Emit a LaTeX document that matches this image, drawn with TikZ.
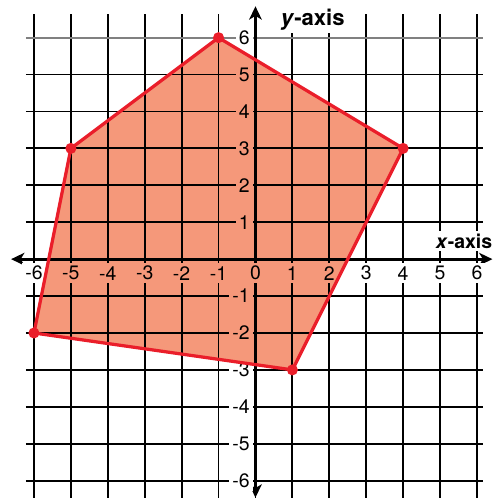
\documentclass[tikz,border=0pt]{standalone}
\usepackage{fontspec}
\setmainfont{TeX Gyre Heros}
\usetikzlibrary{arrows.meta}
\definecolor{polyfill}{RGB}{245,152,122}
\definecolor{polyred}{RGB}{234,30,42}
\definecolor{topgray}{RGB}{128,128,128}
\newcommand{\TickLabels}[1]{%
    \foreach \k in {-6,-5,-4,-3,-2,-1,0,1,2,3,4,5,6} {%
        \node[ticklbl, fill=#1] (xl\k) at (\k,-0.38) {\k};
    }%
    \foreach \k in {-6,-5,-4,-3,-2,-1,1,2,3,4,5,6} {%
        \node[ticklbl, fill=#1, anchor=east] (yl\k) at (-0.06,\k) {\k};
    }%
}
\begin{document}
\begin{tikzpicture}[
    gridline/.style={line width=1.4pt, black},
    axisline/.style={line width=2.3pt, black, {Stealth[length=3.6mm,width=3.4mm,inset=1mm]}-{Stealth[length=3.6mm,width=3.4mm,inset=1mm]}},
    ticklbl/.style={font=\fontsize{15}{17}\selectfont, inner sep=2.5pt, text=black},
    axislbl/.style={font=\bfseries\fontsize{15}{17}\selectfont, fill=white, inner sep=2pt},
    polyedge/.style={line width=2.5pt, polyred, line join=round},
  ]
    \useasboundingbox (-6.92,-6.47) rectangle (6.49,7.02);

    % corners of the pentagon
    \coordinate (P1) at (-1, 6);
    \coordinate (P2) at ( 4, 3);
    \coordinate (P3) at ( 1,-3);
    \coordinate (P4) at (-6,-2);
    \coordinate (P5) at (-5, 3);

    \fill[polyfill] (P1) -- (P2) -- (P3) -- (P4) -- (P5) -- cycle;

    % grid
    \foreach \k in {-6,...,6}
        \draw[gridline] (\k,-6.47) -- (\k,6.64);
    \foreach \k in {-6,...,5}
        \draw[gridline] (-6.22,\k) -- (6.17,\k);
    \draw[gridline, topgray] (-6.22,6) -- (6.17,6);

    % axes
    \draw[axisline] (-6.62,0) -- (6.42,0);
    \draw[axisline] (0,-6.46) -- (0,6.85);

    \TickLabels{white}
    \begin{scope}
        \clip (P1) -- (P2) -- (P3) -- (P4) -- (P5) -- cycle;
        \TickLabels{polyfill}
    \end{scope}

    \node[axislbl, anchor=base] (xlab) at (5.65,0.29) {\textit{x}-axis};
    \node[axislbl, font=\bfseries\fontsize{17}{19}\selectfont, anchor=base] (ylab) at (1.55,6.34) {\textit{y}-axis};

    \draw[polyedge] (P1) -- (P2) -- (P3) -- (P4) -- (P5) -- cycle;
    \foreach \p in {P1,P2,P3,P4,P5}
        \fill[polyred] (\p) circle (0.15);
\end{tikzpicture}
\end{document}
